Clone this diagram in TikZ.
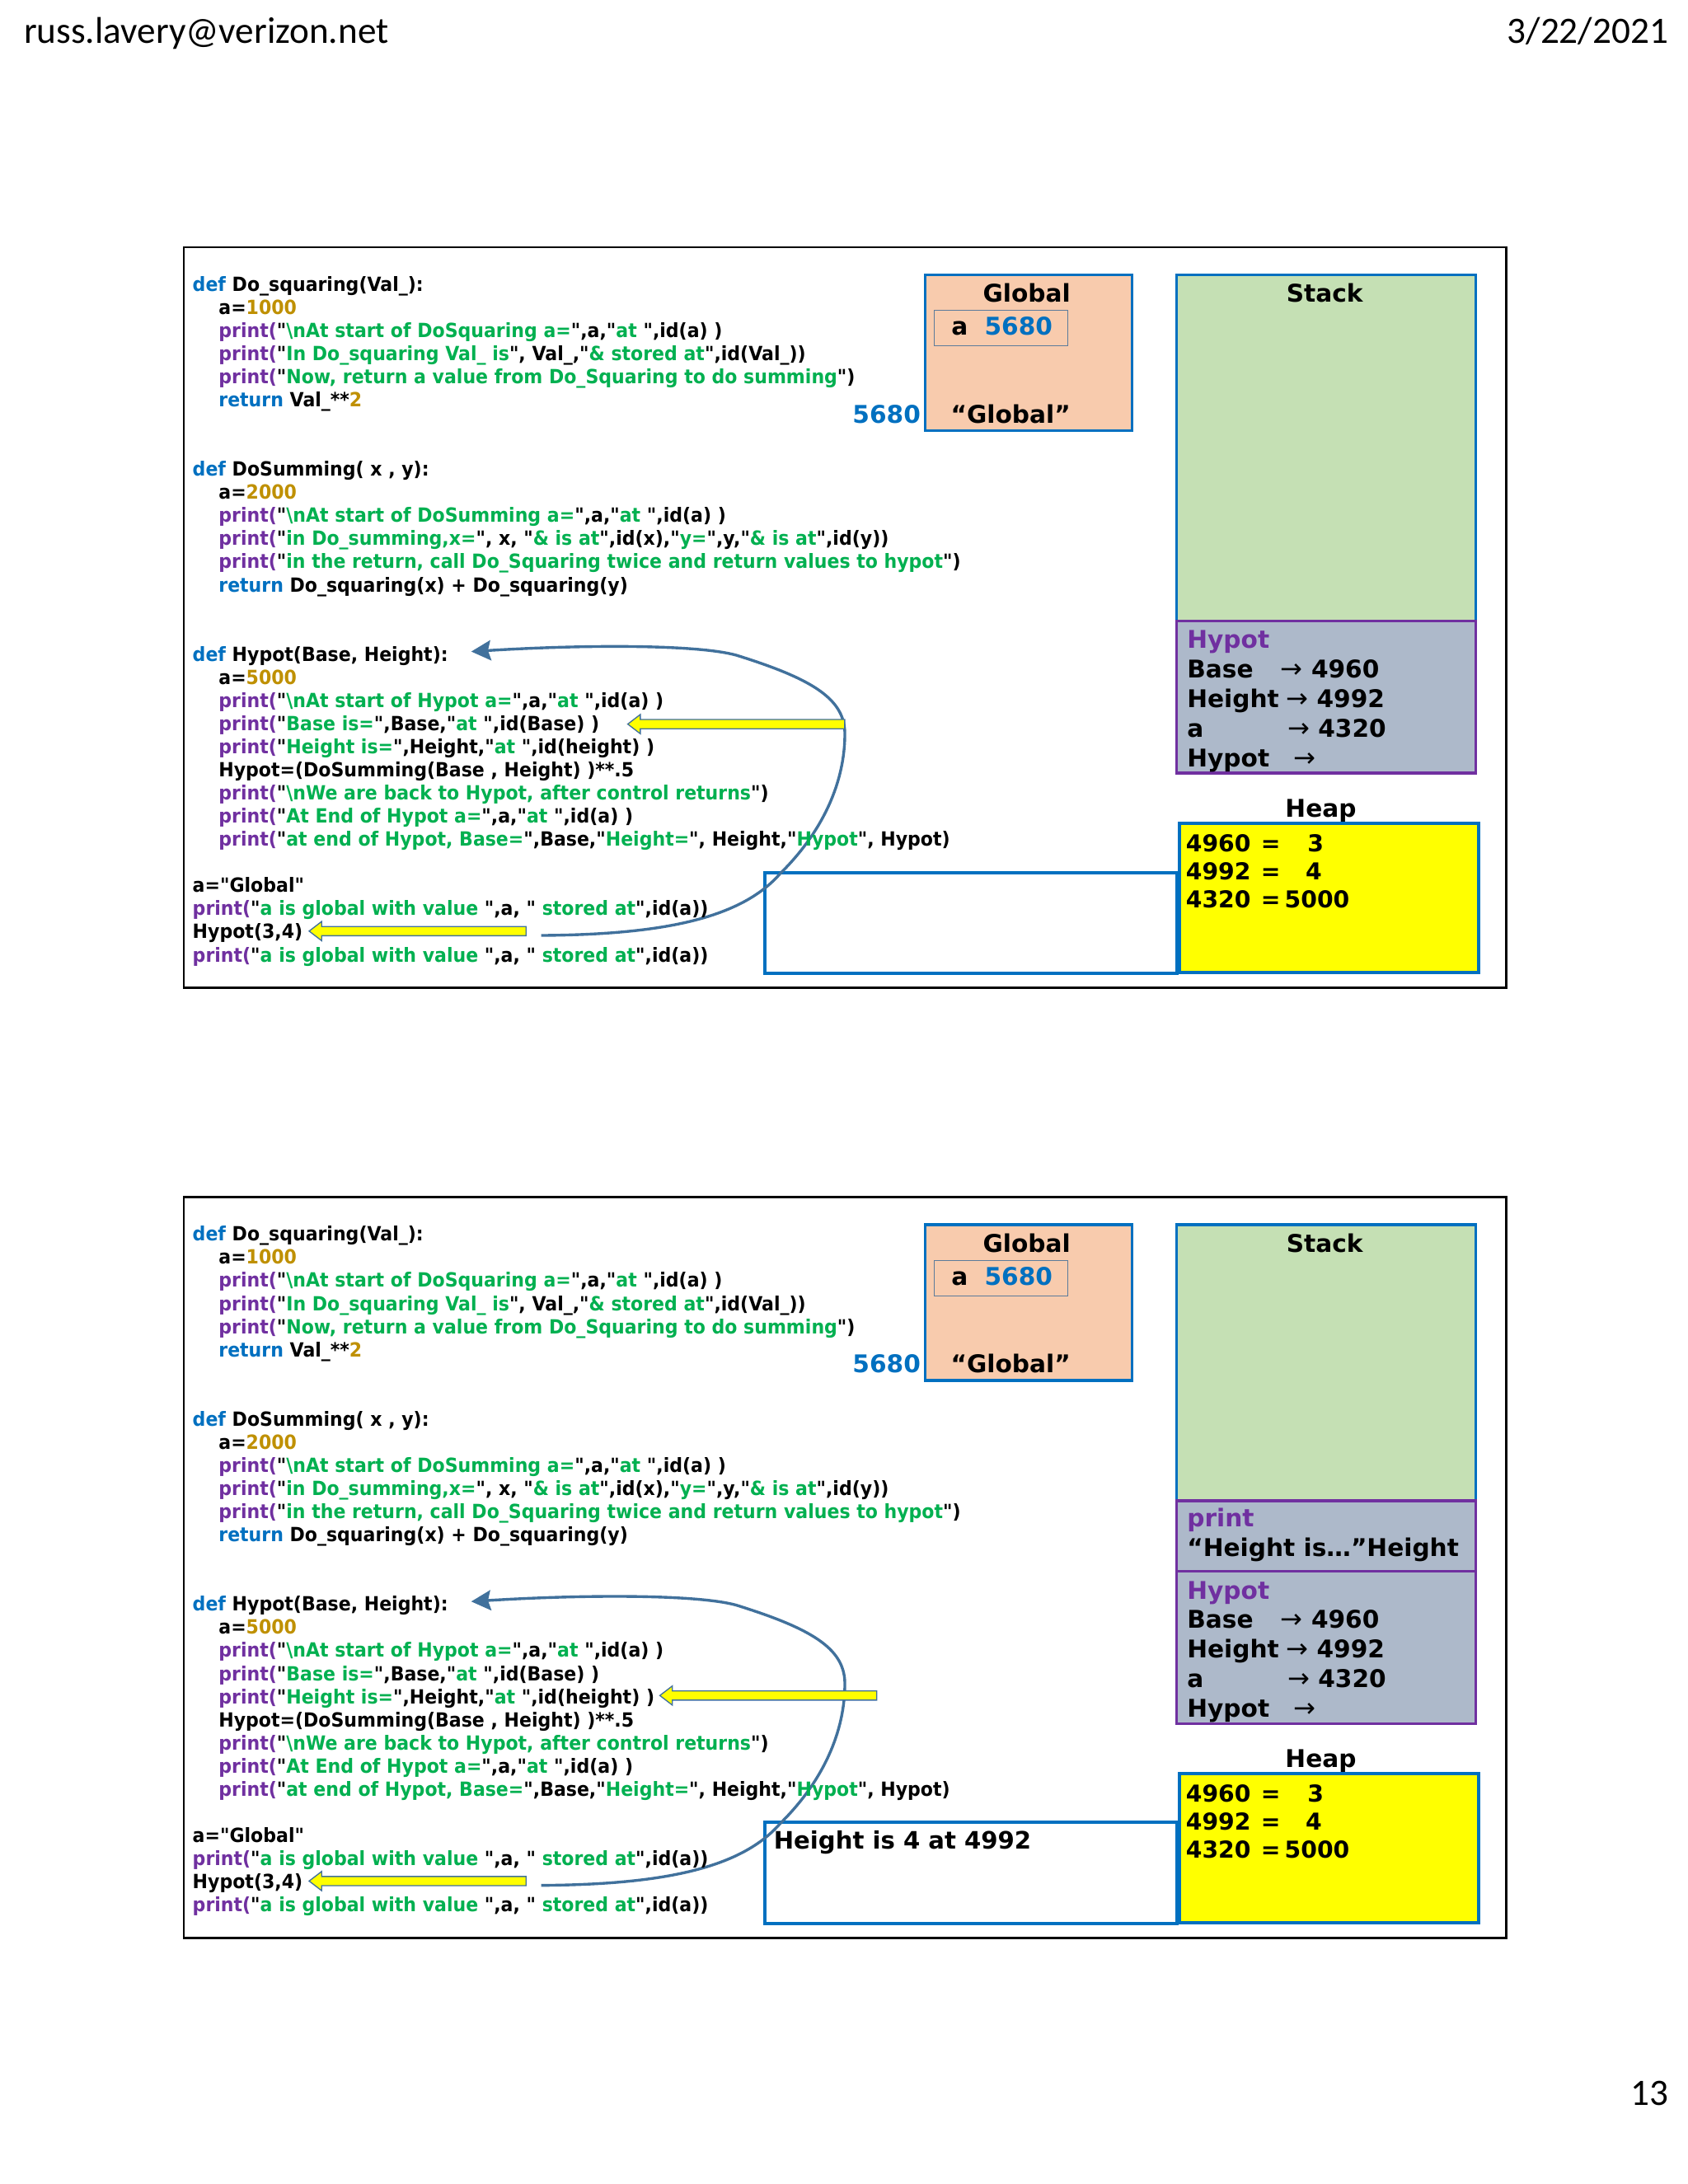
\documentclass[tikz,border=0pt]{standalone}
\usepackage{fontspec}
\usepackage{graphicx}
\usetikzlibrary{arrows.meta}
\setmainfont{DejaVu Sans}
\newfontfamily\cf[FakeStretch=0.93]{DejaVu Sans Bold}
\newfontfamily\pf{DejaVu Sans Bold}
\newfontfamily\af{DejaVu Sans}
\newfontfamily\hf{Carlito}
\definecolor{kwblue}{HTML}{0070C0}
\definecolor{prpurple}{HTML}{7030A0}
\definecolor{stgreen}{HTML}{00B050}
\definecolor{nugold}{HTML}{BF9000}
\definecolor{peach}{HTML}{F8CBAD}
\definecolor{sgreen}{HTML}{C5E0B4}
\definecolor{hgray}{HTML}{ADB9CA}
\definecolor{bblue}{HTML}{0070C0}
\definecolor{flowblue}{HTML}{41719C}
\definecolor{innerc}{HTML}{5B7B9B}
\definecolor{yfill}{HTML}{FFFF00}
\newcommand\kwd[1]{\textcolor{kwblue}{#1}}
\newcommand\prn{\textcolor{prpurple}{print(}}
\newcommand\strg[1]{"\textcolor{stgreen}{\relax#1}"}
\newcommand\numb[1]{\textcolor{nugold}{#1}}
\newcommand\arw{{\af\fontsize{19}{20}\selectfont →}}
\tikzset{
  code/.style={anchor=base west, inner sep=0pt, font=\cf\fontsize{14}{16}\selectfont},
  ptxt/.style={inner sep=0pt, font=\pf\fontsize{17.5}{20}\selectfont},
  htxt/.style={anchor=base west, inner sep=0pt, font=\pf\fontsize{16.7}{20}\selectfont},
  frametxt/.style={anchor=base west, inner sep=0pt, font=\pf\fontsize{17.2}{20}\selectfont},
  slideframe/.style={draw=black, line width=1.6pt, anchor=north west, inner sep=0pt},
  bluebox/.style={draw=bblue, line width=2pt, anchor=north west, inner sep=0pt},
  purplebox/.style={draw=prpurple, line width=2pt, fill=hgray, anchor=north west, inner sep=0pt},
  outbox/.style={draw=bblue, line width=2.4pt, fill=white, anchor=north west, inner sep=0pt},
  yarr/.style={draw=flowblue, line width=0.8pt, fill=yfill, line join=miter},
  flow/.style={draw=flowblue, line width=2pt, -{Stealth[length=14pt, width=14.4pt, inset=2pt]}},
  hdr/.style={inner sep=0pt, font=\hf\fontsize{26.7}{30}\selectfont}
}
\newcommand\yarrow[3]{% name, tip x, centre y
  \coordinate (#1) at (#2,#3);
  \draw[yarr] (#1) -- ++(9,-6.9) -- ++(0,3.6) -- ++(146.5,0) -- ++(0,6.6) -- ++(-146.5,0) -- ++(0,3.6) -- cycle;
}
\newcommand\codelines[1]{%
  \node[code] (l0#1) at (137.9,208.7) {\kwd{def} Do\_squaring(Val\_):};
  \node[code] (l1#1) at (156.6,225.28) {a=\numb{1000}};
  \node[code] (l2#1) at (156.6,241.86) {\prn\strg{\textbackslash nAt start of DoSquaring a=},a,\strg{at },id(a) )};
  \node[code] (l3#1) at (156.6,258.44) {\prn\strg{In Do\_squaring Val\_ is}, Val\_,\strg{\& stored at},id(Val\_))};
  \node[code] (l4#1) at (156.6,275.02) {\prn\strg{Now, return a value from Do\_Squaring to do summing})};
  \node[code] (l5#1) at (156.6,291.6) {\kwd{return} Val\_**\numb{2}};
  \node[code] (l8#1) at (137.9,341.34) {\kwd{def} DoSumming( x , y):};
  \node[code] (l9#1) at (156.6,357.92) {a=\numb{2000}};
  \node[code] (l10#1) at (156.6,374.5) {\prn\strg{\textbackslash nAt start of DoSumming a=},a,\strg{at },id(a) )};
  \node[code] (l11#1) at (156.6,391.08) {\prn\strg{in Do\_summing,x=}, x, \strg{\& is at},id(x),\strg{y=},y,\strg{\& is at},id(y))};
  \node[code] (l12#1) at (156.6,407.66) {\prn\strg{in the return, call Do\_Squaring twice and return values to hypot})};
  \node[code] (l13#1) at (156.6,424.24) {\kwd{return} Do\_squaring(x) + Do\_squaring(y)};
  \node[code] (l16#1) at (137.9,474.0) {\kwd{def} Hypot(Base, Height):};
  \node[code] (l17#1) at (156.6,490.56) {a=\numb{5000}};
  \node[code] (l18#1) at (156.6,507.14) {\prn\strg{\textbackslash nAt start of Hypot a=},a,\strg{at },id(a) )};
  \node[code] (l19#1) at (156.6,523.72) {\prn\strg{Base is=},Base,\strg{at },id(Base) )};
  \node[code] (l20#1) at (156.6,540.3) {\prn\strg{Height is=},Height,\strg{at },id(height) )};
  \node[code] (l21#1) at (156.6,556.88) {Hypot=(DoSumming(Base , Height) )**.5};
  \node[code] (l22#1) at (156.6,573.46) {\prn\strg{\textbackslash nWe are back to Hypot, after control returns})};
  \node[code] (l23#1) at (156.6,590.04) {\prn\strg{At End of Hypot a=},a,\strg{at },id(a) )};
  \node[code] (l24#1) at (156.6,606.62) {\prn\strg{at end of Hypot, Base=},Base,\strg{Height=}, Height,\strg{Hypot}, Hypot)};
  \node[code] (l26#1) at (137.9,639.78) {a="Global"};
  \node[code] (l27#1) at (137.9,656.36) {\prn\strg{a is global with value },a, \strg{ stored at},id(a))};
  \node[code] (l28#1) at (137.9,672.94) {Hypot(3,4)};
  \node[code] (l29#1) at (137.9,689.52) {\prn\strg{a is global with value },a, \strg{ stored at},id(a))};
}
\newcommand\commonparts[1]{%
  \node[slideframe, minimum width=948pt, minimum height=531pt] (frame#1) at (131,176.5) {};
  % Global box
  \node[bluebox, fill=peach, minimum width=148.3pt, minimum height=111.6pt] (glob#1) at (662.1,196) {};
  \node[ptxt, anchor=base] (globt#1) at (736,216.6) {Global};
  \node[draw=innerc, line width=0.8pt, anchor=north west, inner sep=0pt, minimum width=95.7pt, minimum height=25.4pt] (inner#1) at (669.2,222.1) {};
  \node[ptxt, anchor=base west] (ga#1) at (681.8,240.3) {a};
  \node[ptxt, anchor=base west, text=bblue] (gv#1) at (705.6,240.3) {5680};
  \node[ptxt, anchor=base west] (gg#1) at (681.4,303.3) {“Global”};
  \node[ptxt, anchor=base east, text=bblue] (gid#1) at (660.1,303.3) {5680};
  % Heap
  \node[ptxt, anchor=base] (heapt#1) at (946.8,585.8) {Heap};
  \node[draw=bblue, line width=2.4pt, fill=yfill, anchor=north west, inner sep=0pt, minimum width=214.7pt, minimum height=106.7pt] (heap#1) at (844,589.3) {};
  \node[htxt] (hr1#1) at (849.9,610.8) {\makebox[53.8pt][l]{4960}\makebox[33.3pt][l]{=}3};
  \node[htxt] (hr2#1) at (849.9,630.8) {\makebox[53.8pt][l]{4992}\makebox[32pt][l]{=}4};
  \node[htxt] (hr3#1) at (849.9,650.8) {\makebox[53.8pt][l]{4320}\makebox[17pt][l]{=}5000};
  % Output box
  \node[outbox, minimum width=295.4pt, minimum height=72.3pt] (out#1) at (546.9,624.3) {};
  % yellow arrow to Hypot(3,4)
  \yarrow{yb#1}{221.6}{667.5}
  % curved flow arrow
  \coordinate (cs#1) at (388,670.6);
  \coordinate (ct#1) at (337.8,467.1);
  \draw[flow] (cs#1) .. controls (470,670) and (530,660) .. (559.3,626.2)
     .. controls (590,596) and (606,560) .. (605.6,525)
     .. controls (605,500) and (580,486) .. (527.8,469.7)
     .. controls (500,462) and (420,462) .. (ct#1);
  \codelines{#1}
}
\newcommand\hypotrows[2]{% suffix, top y of Hypot frame
  \node[purplebox, minimum width=214.5pt, minimum height=109.2pt] (hyf#1) at (842.5,#2) {};
  \begin{scope}[shift={(0,#2)}]
  \node[ptxt, anchor=base west, text=prpurple] (hy0#1) at (850.8,20.7) {Hypot};
  \node[ptxt, anchor=base west] (hy1#1) at (850.8,41.7) {\makebox[66.8pt][l]{Base}\makebox[22.2pt][l]{\arw}4960};
  \node[ptxt, anchor=base west] (hy2#1) at (850.8,63.0) {\makebox[70.9pt][l]{Height}\makebox[22pt][l]{\arw}4992};
  \node[ptxt, anchor=base west] (hy3#1) at (850.8,84.1) {\makebox[71.9pt][l]{a}\makebox[22pt][l]{\arw}4320};
  \node[ptxt, anchor=base west] (hy4#1) at (850.8,105.7) {\makebox[76.4pt][l]{Hypot}\arw};
  \end{scope}
}
\begin{document}
\begin{tikzpicture}[x=1pt,y=-1pt]
\useasboundingbox (0,0) rectangle (1210,1565.7);
\fill[white] (0,0) rectangle (1210,1565.7);
% header / footer
\node[hdr, anchor=base west] (email) at (17,31) {russ.lavery@verizon.net};
\node[hdr, anchor=base east] (date) at (1196,31) {3/22/2021};
\node[hdr, anchor=base east] (pageno) at (1196,1509) {13};
% ---------- slide 1 ----------
\commonparts{a}
\node[bluebox, fill=sgreen, minimum width=214.5pt, minimum height=248.1pt] (stack a) at (842.5,196) {};
\node[ptxt, anchor=base] (stackt a) at (949.6,216.8) {Stack};
\hypotrows{a}{444.1}
\yarrow{ya a}{450}{519.1}
% ---------- slide 2 ----------
\begin{scope}[shift={(0,681)}]
\commonparts{b}
\node[bluebox, fill=sgreen, minimum width=214.5pt, minimum height=198pt] (stack b) at (842.5,196) {};
\node[ptxt, anchor=base] (stackt b) at (949.6,216.8) {Stack};
\node[purplebox, minimum width=214.5pt, minimum height=50.5pt] (prf b) at (842.5,394) {};
\node[ptxt, anchor=base west, text=prpurple] (prt b) at (850.8,413.6) {print};
\node[ptxt, anchor=base west] (prh b) at (850.8,434.6) {“Height is…”Height};
\hypotrows{b}{444.5}
\yarrow{ya b}{473}{534.5}
\node[frametxt] (outt b) at (554.5,644.5) {Height is 4 at 4992};
\end{scope}
\end{tikzpicture}
\end{document}
